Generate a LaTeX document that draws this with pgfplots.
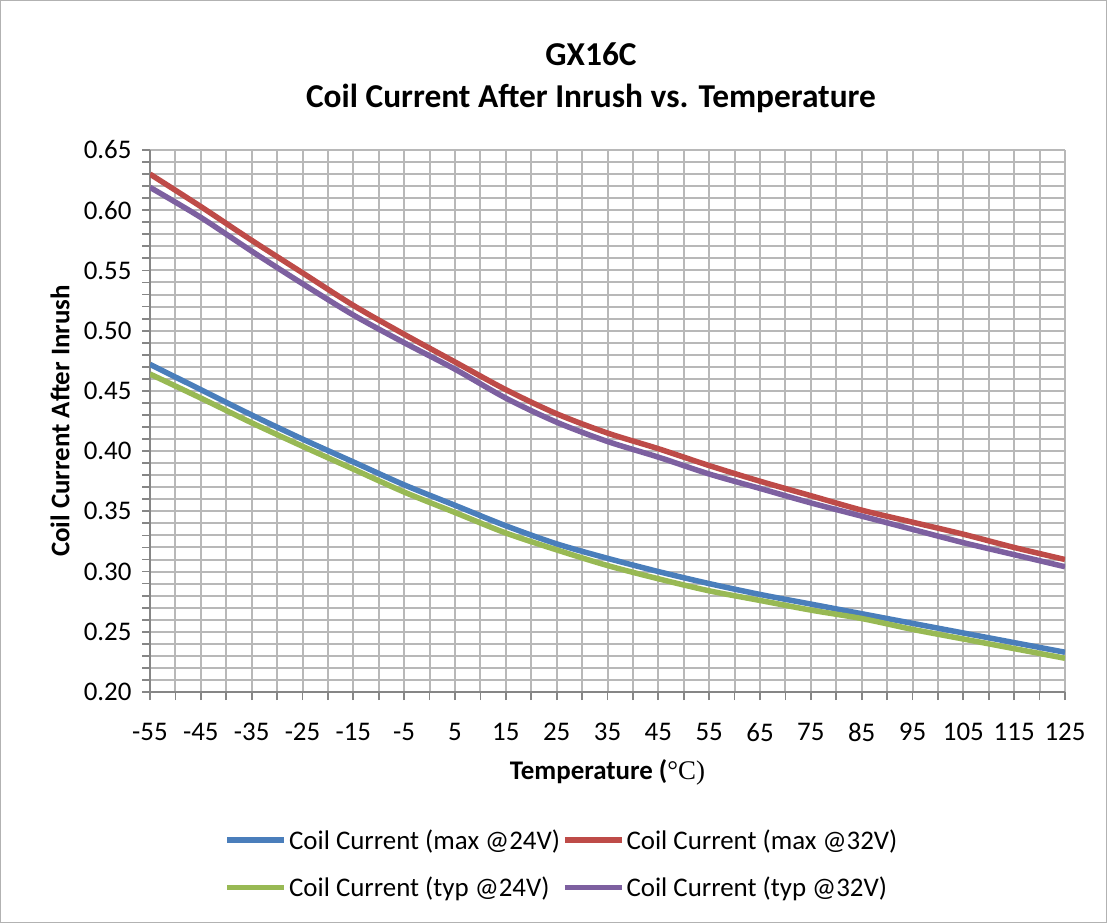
\documentclass[border=0pt]{standalone}
\usepackage{fontspec}
\setmainfont{Carlito}
\newfontfamily\serifc{Liberation Serif}
\usepackage{pgfplots}
\pgfplotsset{compat=1.18}
\definecolor{cblue}{HTML}{4A7EBB}
\definecolor{cred}{HTML}{BE4B48}
\definecolor{cgreen}{HTML}{98B954}
\definecolor{cpurple}{HTML}{7D60A0}
\definecolor{gridc}{HTML}{B8B8B8}
\definecolor{axisc}{HTML}{868686}
\pgfplotstableread{
T     b      r      g       p
-55   0.472  0.630  0.464   0.619
-45   0.451  0.603  0.444   0.594
-35   0.430  0.575  0.4235  0.566
-25   0.410  0.548  0.404   0.539
-15   0.391  0.521  0.385   0.513
-5    0.372  0.497  0.366   0.490
5     0.355  0.474  0.349   0.468
15    0.338  0.451  0.332   0.444
25    0.323  0.431  0.318   0.424
35    0.311  0.415  0.305   0.408
45    0.300  0.402  0.294   0.395
55    0.290  0.388  0.284   0.381
65    0.281  0.375  0.276   0.369
75    0.273  0.363  0.268   0.357
85    0.265  0.351  0.261   0.346
95    0.257  0.341  0.252   0.335
105   0.249  0.331  0.244   0.324
115   0.241  0.320  0.236   0.314
125   0.233  0.310  0.228   0.304
}\datatab
\begin{document}
\begin{tikzpicture}
\useasboundingbox (0,0) rectangle (1107bp,923bp);
\draw[gray!60, line width=1bp] (0.5bp,0.5bp) rectangle (1106.5bp,922.5bp);
\begin{axis}[
  at={(150bp,231bp)}, anchor=south west,
  scale only axis, width=915bp, height=542bp,
  xmin=-55, xmax=125, ymin=0.2, ymax=0.65,
  xtick={-55,-45,...,125},
  minor x tick num=1,
  ytick={0.20,0.25,0.30,0.35,0.40,0.45,0.50,0.55,0.60,0.65},
  minor y tick num=4,
  grid=both,
  major grid style={draw=gridc, line width=2bp},
  minor grid style={draw=gridc, line width=2bp},
  axis x line*=bottom, axis y line*=left,
  axis line style={draw=axisc, line width=2bp, -},
  tick align=outside,
  major tick length=8bp, minor tick length=8bp,
  every tick/.style={draw=axisc, line width=1.8bp},
  minor tick style={draw=axisc, line width=1.8bp},
  /pgf/number format/assume math mode=true,
  ticklabel style={font=\fontsize{27}{31}\selectfont},
  xticklabel style={yshift=-20bp},
  yticklabel style={xshift=-7bp, /pgf/number format/.cd, fixed, fixed zerofill, precision=2},
  xlabel={\textbf{Temperature (}{\serifc °C)}},
  ylabel={\textbf{Coil Current After Inrush}},
  label style={font=\fontsize{27}{31}\selectfont},
  xlabel style={at={(axis description cs:0.5,-0.1476)}, anchor=center},
  ylabel style={at={(axis description cs:-0.0984,0.5)}, anchor=center},
  title={GX16C\\Coil Current After Inrush vs. Temperature},
  title style={at={(axis description cs:0.482,1.1218)}, anchor=center, align=center, font=\fontsize{33.5}{42}\selectfont\bfseries},
  legend columns=2,
  legend cell align=left,
  legend style={at={(axis description cs:0.4503,-0.317)}, anchor=center, draw=none, fill=none,
    font=\fontsize{27}{31}\selectfont, row sep=22bp,
    /tikz/every even column/.append style={column sep=0bp}},
  legend image code/.code={\draw[#1, line width=5.5bp] (0bp,0bp) -- (57bp,0bp);},
]
\addplot[cblue, line width=5.5bp, smooth] table[x=T, y=b] {\datatab};
\addlegendentry{Coil Current (max @24V)}
\addplot[cred, line width=5.5bp, smooth] table[x=T, y=r] {\datatab};
\addlegendentry{Coil Current (max @32V)}
\addplot[cgreen, line width=5.5bp, smooth] table[x=T, y=g] {\datatab};
\addlegendentry{Coil Current (typ @24V)}
\addplot[cpurple, line width=5.5bp, smooth] table[x=T, y=p] {\datatab};
\addlegendentry{Coil Current (typ @32V)}
\end{axis}
\end{tikzpicture}
\end{document}
